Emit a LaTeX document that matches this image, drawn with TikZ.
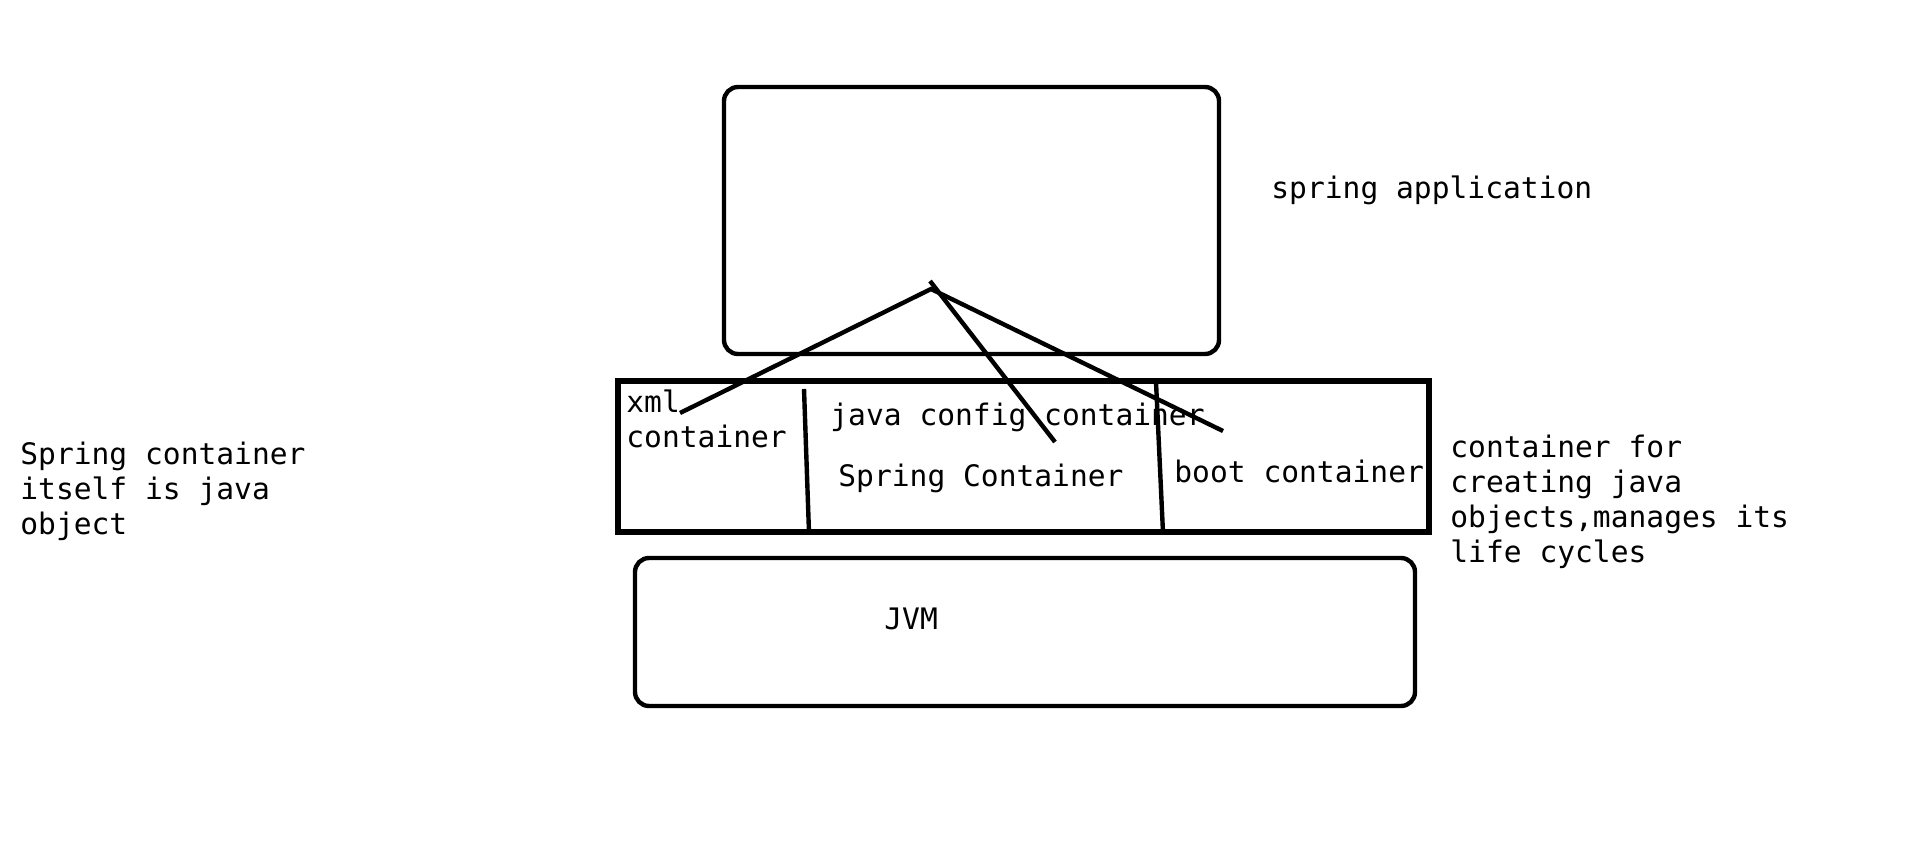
\documentclass[tikz,border=0pt]{standalone}
\usepackage{fontspec}
\setmonofont{DejaVu Sans Mono}
\begin{document}
\begin{tikzpicture}[x=0.5pt,y=-0.5pt,
  lbl/.style={font=\ttfamily\fontsize{14.8}{17.5}\selectfont, inner sep=0pt, align=left},
  rbox/.style={draw=black, line width=2.2pt, rounded corners=7pt},
  sbox/.style={draw=black, line width=2.7pt},
  stroke/.style={draw=black, line width=2.2pt}]
\useasboundingbox (0,0) rectangle (1914,861);
% boxes
\draw[rbox] (724,87) rectangle (1219,354);
\draw[sbox] (618,381) rectangle (1429,532);
\draw[rbox] (635,558) rectangle (1415,706);
% dividers
\coordinate (d1t) at (804,389); \coordinate (d1b) at (809,533);
\coordinate (d2t) at (1156,382); \coordinate (d2b) at (1163,533);
\draw[stroke] (d1t) -- (d1b);
\draw[stroke] (d2t) -- (d2b);
% fan lines
\coordinate (apex) at (931,289);
\coordinate (apex2) at (930,281);
\coordinate (xmlend) at (680,413);
\coordinate (javaend) at (1055,442);
\coordinate (bootend) at (1223,431);
\draw[stroke] (xmlend) -- (apex) -- (bootend);
\draw[stroke] (apex2) -- (javaend);
% labels
\node[lbl, anchor=west] (sa) at (1271,190) {spring application};
\node[lbl, anchor=west] (xml) at (626,419) {xml\\container};
\node[lbl, anchor=west] (jc) at (830,417) {java config container};
\node[lbl, anchor=west] (sc) at (838,478) {Spring Container};
\node[lbl, anchor=west] (bc) at (1174,471) {boot container};
\node[lbl, anchor=west] (jvm) at (884,619) {JVM};
\node[lbl, anchor=west] (left) at (20,491) {Spring container\\itself is java\\object};
\node[lbl, anchor=west] (right) at (1450,502) {container for\\creating java\\objects,manages its\\life cycles};
\end{tikzpicture}
\end{document}
